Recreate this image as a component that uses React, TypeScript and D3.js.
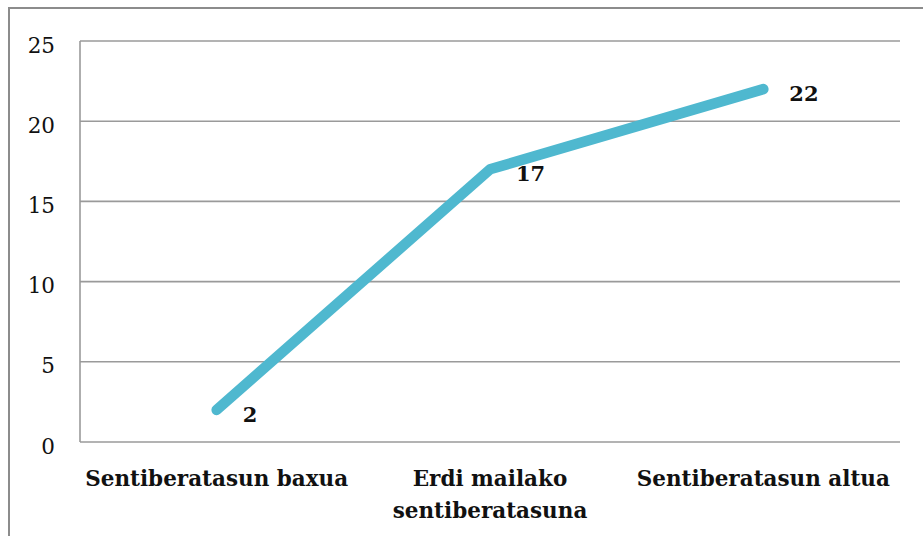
import React from "react";
import * as d3 from "d3";

const categories = ["Sentiberatasun baxua", "Erdi mailako sentiberatasuna", "Sentiberatasun altua"];
const categoryLines = [["Sentiberatasun baxua"], ["Erdi mailako", "sentiberatasuna"], ["Sentiberatasun altua"]];
const values = [2, 17, 22];
const yTicks = [0, 5, 10, 15, 20, 25];

const W = 923;
const H = 536;
const M = { left: 80, right: 23, top: 41, bottom: 94 };

export default function App() {
  const x = d3.scaleBand<string>().domain(categories).range([M.left, W - M.right]);
  const y = d3.scaleLinear().domain([0, 25]).range([H - M.bottom, M.top]);
  const cx = (c: string) => (x(c) as number) + x.bandwidth() / 2;
  const line = d3
    .line<number>()
    .x((_, i) => cx(categories[i]))
    .y((d) => y(d));
  const font = "'DejaVu Serif', serif";
  return (
    <div style={{ position: "absolute", left: 0, top: 0 }}>
      <svg width={W} height={H} style={{ display: "block" }}>
        <rect x={0} y={0} width={W} height={H} fill="#fff" />
        <rect x={9} y={8} width={W + 20} height={H + 20} fill="none" stroke="#8c8c8c" strokeWidth={2} />
        {yTicks.map((t) => (
          <g key={t}>
            <line x1={M.left} x2={W - M.right} y1={y(t)} y2={y(t)} stroke="#9a9a9a" strokeWidth={1.6} />
            <text x={55} y={y(t) + 11.5} textAnchor="end" fontFamily={font} fontSize={21.5} fill="#111">
              {t}
            </text>
          </g>
        ))}
        <line x1={M.left} x2={M.left} y1={M.top} y2={y(0)} stroke="#9a9a9a" strokeWidth={1.6} />
        {categories.map((c, i) => (
          <text key={c} x={cx(c)} y={486} textAnchor="middle" fontFamily={font} fontWeight="bold" fontSize={21.5} fill="#111">
            {categoryLines[i].map((l, j) => (
              <tspan key={j} x={cx(c)} dy={j === 0 ? 0 : 31.5}>
                {l}
              </tspan>
            ))}
          </text>
        ))}
        <path d={line(values) || ""} fill="none" stroke="#4fb8cf" strokeWidth={10.5} strokeLinecap="round" strokeLinejoin="round" />
        {values.map((v, i) => (
          <text key={i} x={cx(categories[i]) + 26} y={y(v) + 12} fontFamily={font} fontWeight="bold" fontSize={21} fill="#111">
            {v}
          </text>
        ))}
      </svg>
    </div>
  );
}
